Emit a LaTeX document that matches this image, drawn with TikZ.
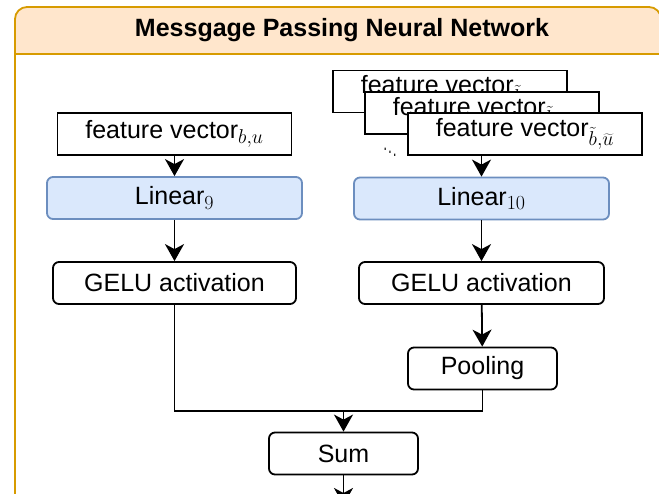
\documentclass[tikz,border=0pt]{standalone}
\usepackage{fix-cm}
\usepackage[no-math]{fontspec}
\setmainfont{Liberation Sans}
\DeclareMathSizes{25}{25}{20}{15}
\usetikzlibrary{arrows.meta}
\definecolor{hdrstroke}{HTML}{D79B00}
\definecolor{hdrfill}{HTML}{FFE6CC}
\definecolor{linfill}{HTML}{DAE8FC}
\definecolor{linstroke}{HTML}{6C8EBF}
\tikzset{
  base/.style={draw=black, line width=1.8pt, fill=white, inner sep=0pt, align=center,
    font=\fontsize{25}{30}\selectfont},
  fvbox/.style={base, minimum width=234pt, minimum height=42pt},
  rbox/.style={base, rounded corners=6pt, minimum height=42pt},
  linbox/.style={rbox, fill=linfill, draw=linstroke, minimum width=255pt},
  conn/.style={line width=1.8pt, -{Stealth[length=17pt,width=19pt,inset=5pt]}},
  plainconn/.style={line width=1.8pt},
}
\begin{document}
\begin{tikzpicture}[x=1pt,y=-1pt]
\useasboundingbox (0,0) rectangle (659,493);
% frame
\fill[white] (15,7) rectangle (661,520);
\fill[hdrfill] (15,54) [rounded corners=12pt]-- (15,7) -- (661,7) [sharp corners]-- (661,54) -- cycle;
\draw[hdrstroke, line width=1.8pt] (15,520) [rounded corners=12pt]-- (15,7) -- (661,7) [sharp corners]-- (661,520);
\draw[hdrstroke, line width=1.8pt] (15,54) -- (661,54);
\node[font=\fontsize{25}{30}\selectfont\bfseries] (title) at (342,30) {Messgage Passing Neural Network};
% left column
\node[fvbox] (fv) at (174.5,134) {feature vector$_{b,u}$};
\node[linbox] (lin9) at (174.5,198) {Linear$_9$};
\node[rbox, minimum width=243pt] (gelu1) at (174.5,283) {GELU activation};
% right column
\node[fvbox] (fvA) at (450,91.5) {feature vector$_{\tilde{b},\widetilde{u}}$};
\node[fvbox] (fvB) at (482,113) {feature vector$_{\tilde{b},\widetilde{u}}$};
\node[fvbox] (fvC) at (525,134) {feature vector$_{\tilde{b},\widetilde{u}}$};
\node[font=\fontsize{22}{24}\selectfont, xscale=0.55, inner sep=0pt] (dots) at (390,149) {$\ddots$};
\node[linbox] (lin10) at (481.5,198.5) {Linear$_{10}$};
\node[rbox, minimum width=245pt] (gelu2) at (481.5,283) {GELU activation};
\node[rbox, minimum width=149pt] (pool) at (482.5,368.5) {Pooling};
\node[rbox, minimum width=149pt] (sum) at (343.5,453.5) {Sum};
\coordinate (m) at (343.5,411);
\coordinate (out) at (343.5,505);
% connectors
\draw[conn] (fv) -- (lin9);
\draw[conn] (lin9) -- (gelu1);
\draw[conn] (lin10.north |- fvC.south) -- (lin10.north);
\draw[conn] (lin10) -- (gelu2);
\draw[conn] (gelu2) -- (pool);
\draw[plainconn] (gelu1.south) |- (m) -| (pool.south);
\draw[conn] (m) -- (sum.north);
\draw[conn] (sum.south) -- (out);
\end{tikzpicture}
\end{document}
